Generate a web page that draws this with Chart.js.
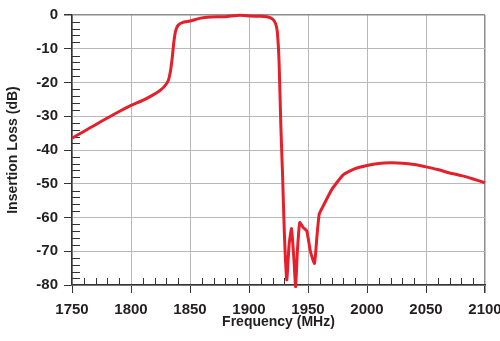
<!DOCTYPE html>
<html>
<head>
<meta charset="utf-8">
<script src="https://cdn.jsdelivr.net/npm/chart.js@4/dist/chart.umd.min.js"></script>
<style>
  body { margin: 0; background: #fff; }
  canvas { display: block; }
</style>
</head>
<body>
<canvas id="lossChart" width="500" height="341"></canvas>
<script>
// Insertion loss curve
const freqMHz = [1750, 1760, 1770, 1780, 1790, 1800, 1810, 1818, 1824, 1828,
  1831.5, 1833.5, 1835, 1836.5, 1838, 1840, 1844, 1850, 1858, 1867,
  1880, 1892, 1901, 1910, 1916, 1920, 1922.5, 1924, 1925.5, 1927,
  1928.5, 1930, 1932, 1934, 1936, 1938, 1939.5, 1941, 1943, 1946,
  1949, 1952, 1955.5, 1957.5, 1959.5, 1963, 1970, 1980, 1990, 2000,
  2010, 2020, 2030, 2040, 2050, 2060, 2070, 2080, 2090, 2100];
const lossDb = [-36.5, -34.5, -32.5, -30.5, -28.6, -26.8, -25.3, -23.8, -22.5, -21.3,
  -19.5, -16.5, -12.5, -7.5, -4.5, -3.0, -2.2, -1.8, -1.0, -0.6,
  -0.5, -0.1, -0.3, -0.4, -0.6, -1.2, -2.5, -5, -14, -33,
  -48, -65, -78.5, -68, -63.3, -72, -80.5, -70, -61.5, -63,
  -64, -70, -73.6, -66, -59, -56.5, -51.8, -47.3, -45.5, -44.6,
  -44.0, -43.8, -43.9, -44.3, -45.0, -45.8, -46.8, -47.6, -48.6, -49.7];

const xTicks = [1750, 1800, 1850, 1900, 1950, 2000, 2050, 2100];
const yTicks = [0, -10, -20, -30, -40, -50, -60, -70, -80];

const fontFamily = "'Liberation Sans', Arial, sans-serif";
const textColor = '#231f20';

// small inside ticks every 10 MHz and every 2 dB
const minorTicks = {
  id: 'minorTicks',
  beforeDatasetsDraw(chart) {
    const { ctx, chartArea, scales: { x, y } } = chart;
    ctx.save();
    ctx.strokeStyle = '#333';
    ctx.lineWidth = 1;
    ctx.beginPath();
    for (let v = xTicks[0]; v <= xTicks[xTicks.length - 1]; v += 10) {
      if (v % 50 === 0) continue;
      const px = Math.round(x.getPixelForValue(v)) + 0.5;
      ctx.moveTo(px, chartArea.bottom);
      ctx.lineTo(px, chartArea.bottom - 7);
    }
    for (let v = -80; v <= 0; v += 2) {
      if (v % 10 === 0) continue;
      const py = Math.round(y.getPixelForValue(v)) + 0.5;
      ctx.moveTo(chartArea.left, py);
      ctx.lineTo(chartArea.left + 8, py);
    }
    ctx.stroke();
    ctx.restore();
  }
};

const ctx = document.getElementById('lossChart').getContext('2d');
const lossChart = new Chart(ctx, {
  type: 'line',
  data: {
    datasets: [{
      label: 'Insertion Loss',
      data: freqMHz.map((f, i) => ({ x: f, y: lossDb[i] })),
      borderColor: '#e3202b',
      borderWidth: 3,
      pointRadius: 0,
      tension: 0.15,
      clip: 3
    }]
  },
  options: {
    responsive: false,
    animation: false,
    layout: { padding: { top: 14, right: 15, left: 0, bottom: 0 } },
    plugins: { legend: { display: false }, tooltip: { enabled: false } },
    scales: {
      x: {
        type: 'linear',
        min: 1750,
        max: 2100,
        afterBuildTicks: s => { s.ticks = xTicks.map(v => ({ value: v })); },
        afterFit: s => { s.height = 56; s.paddingLeft = 0; s.paddingRight = 0; },
        ticks: {
          color: textColor,
          font: { family: fontFamily, size: 15, weight: 'bold' },
          padding: 8,
          maxRotation: 0,
          callback: v => String(v)
        },
        grid: {
          color: c => c.tick && c.tick.value === 2100 ? '#8c8c8c' : '#b8b8b8',
          lineWidth: c => c.tick && c.tick.value === 2100 ? 1.5 : 1,
          tickColor: '#333',
          tickLength: 8
        },
        border: { color: '#333', width: 1.5 },
        title: {
          display: true,
          text: 'Frequency (MHz)',
          color: textColor,
          font: { family: fontFamily, size: 14, weight: 'bold' },
          padding: { top: 0, bottom: 10 }
        }
      },
      y: {
        min: -80,
        max: 0,
        afterBuildTicks: s => { s.ticks = yTicks.map(v => ({ value: v })); },
        afterFit: s => { s.width = 72; },
        ticks: {
          color: textColor,
          font: { family: fontFamily, size: 15, weight: 'bold' },
          padding: 6
        },
        grid: {
          color: c => c.tick && c.tick.value === 0 ? '#8c8c8c' : '#b8b8b8',
          lineWidth: c => c.tick && c.tick.value === 0 ? 1.5 : 1,
          tickColor: '#333',
          tickLength: 8
        },
        border: { color: '#333', width: 1.5 },
        title: {
          display: true,
          text: 'Insertion Loss (dB)',
          color: textColor,
          font: { family: fontFamily, size: 14, weight: 'bold' },
          padding: { top: 5, bottom: 0 }
        }
      }
    }
  },
  plugins: [minorTicks]
});
</script>
</body>
</html>
